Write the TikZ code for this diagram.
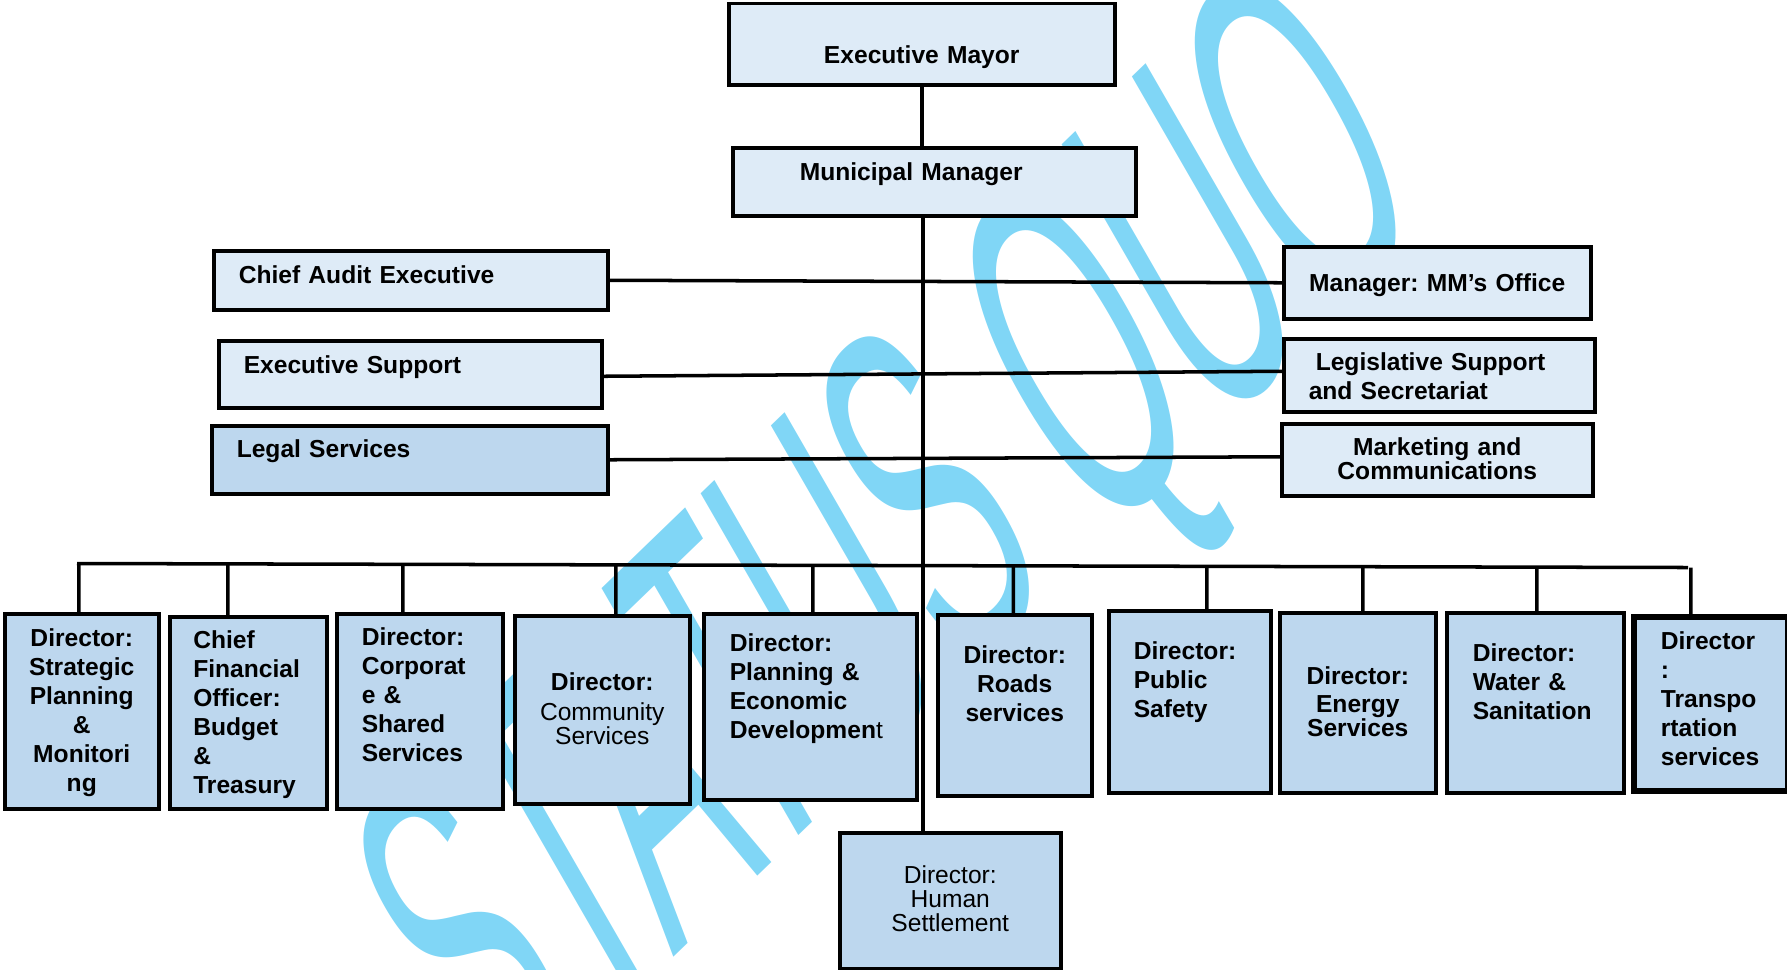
\documentclass[tikz,border=0pt]{standalone}
\usepackage{fontspec}
\setmainfont{Liberation Sans}
\usetikzlibrary{calc}
\frenchspacing

\definecolor{paleblue}{HTML}{DEEBF7}
\definecolor{dirblue}{HTML}{BDD7EE}
\definecolor{markblue}{HTML}{80D6F6}

\newcommand{\post}[1]{\fontsize{7}{#1}\selectfont}

\tikzset{
  unit/.style={draw, line width=1pt, anchor=north west, inner ysep=0pt},
  upper/.style={unit, fill=paleblue, font=\post{8.25pt}\bfseries},
  lower/.style={unit, fill=dirblue, font=\post{8.25pt}\bfseries},
  lefty/.style={align=left, inner xsep=#1},
  mid/.style={align=center, inner xsep=#1},
  mid/.default=1mm,
  ht/.style 2 args={text height=#1, text depth=#2},
  link/.style={line width=1pt},
  trunk/.style={line width=1.25pt},
  stamp/.style={text=markblue, inner sep=0pt, font=\fontsize{130}{130}\selectfont,
    rotate=44, xslant=0.25, xscale=0.45},
}

\begin{document}
\begin{tikzpicture}[x=1mm, y=1mm]
    \useasboundingbox (0,0) rectangle (178.7,-96.9);

    \node[stamp] (status) at (90.5,-57.2) {STATUS QUO};

	\node[upper, mid, text width=36.6mm, ht={6.05mm}{2.1mm}] (mayor) at (72.7,-0.15) {Executive Mayor};
	\node[upper, lefty=6.7mm, text width=26.9mm, ht={3.3mm}{3.5mm}] (mm) at (73.1,-14.6) {Municipal Manager};
    \draw[trunk] (mayor.south) -- (mayor.south |- mm.north);

	\node[upper, lefty=2.5mm, text width=34.4mm, ht={3.25mm}{2.65mm}] (cae) at (21.2,-24.9) {Chief Audit Executive};
	\node[upper, mid, text width=28.7mm, ht={4.45mm}{2.75mm}] (mmo) at (128.2,-24.5) {Manager: MM’s Office};
    \draw[link] (cae.east) -- (mmo.west);

	\node[upper, lefty=2.5mm, text width=33.3mm, ht={3.3mm}{3.4mm}] (es) at (21.7,-33.9) {Executive Support};
	\node[upper, lefty=2.5mm, text width=26.1mm, ht={3.2mm}{4.1mm}] (legis) at (128.2,-33.7) {\hspace*{0.7mm}Legislative Support\\and Secretariat};
    \draw[link] ([yshift=-0.2mm]es.east) -- ([yshift=0.4mm]legis.west);

	\node[lower, lefty=2.5mm, text width=34.6mm, ht={3.2mm}{3.6mm}] (legal) at (21.0,-42.4) {Legal Services};
	\node[upper, mid, text width=29.1mm, ht={3.2mm}{4.0mm}, font=\post{6.7pt}\bfseries] (mkt) at (128.0,-42.2) {Marketing and\\Communications};
    \draw[link] (legal.east) -- ([yshift=0.3mm]mkt.west);

	\node[lower, mid=0.5mm, text width=14.4mm, ht={3.3mm}{16.2mm}] (strat) at (0.3,-61.2) {Director:\\Strategic\\Planning\\\&\\Monitori\\ng};
	\node[lower, lefty=2.35mm, text width=11.0mm, ht={3.2mm}{16.0mm}] (cfo) at (16.8,-61.5) {Chief\\Financial\\Officer:\\Budget\\\&\\Treasury};
	\node[lower, lefty=2.5mm, text width=11.6mm, ht={3.2mm}{16.3mm}] (corp) at (33.5,-61.2) {Director:\\Corporat\\e \&\\Shared\\Services};
	\node[lower, mid, text width=15.5mm, ht={7.5mm}{11.3mm}, font=\post{6.8pt}] (comm) at (51.3,-61.4) {{\bfseries Director:}\hspace*{2.2mm}\\[0.55mm]Community\\Services};
	\node[lower, lefty=2.6mm, text width=16.1mm, ht={3.75mm}{14.85mm}] (plan) at (70.2,-61.2) {Director:\\Planning \&\\Economic\\Developmen{\mdseries t}};
	\node[lower, mid, text width=13.4mm, ht={4.9mm}{13.2mm}] (roads) at (93.6,-61.3) {Director:\\Roads\\services};
	\node[lower, lefty=2.5mm, text width=11.2mm, ht={4.9mm}{13.3mm}] (pub) at (110.7,-60.9) {Director:\\Public\\Safety};
	\node[lower, mid, text width=13.6mm, ht={7.2mm}{10.8mm}, font=\post{6.8pt}\bfseries] (energy) at (127.8,-61.1) {Director:\\[0.4mm]Energy\\Services};
	\node[lower, lefty=2.6mm, text width=12.5mm, ht={4.9mm}{13.1mm}] (water) at (144.5,-61.1) {Director:\\Water \&\\Sanitation};
	\node[lower, lefty=2.7mm, text width=10.0mm, ht={3.3mm}{14.1mm}, line width=1.6pt] (trans) at (163.1,-61.4) {Director\\:\\Transpo\\rtation\\services};

	\node[lower, mid, text width=20.1mm, ht={5.1mm}{8.5mm}, font=\post{6.8pt}] (hs) at (83.8,-83.1) {Director:\\Human\\Settlement};
    \coordinate (spine) at (92.3,0);
    \draw[trunk] (mm.south -| spine) -- (hs.north -| spine);

    \coordinate (busL) at (7.7,-56.35);
    \coordinate (busR) at (168.8,-56.75);
    \draw[link] (busL) -- (busR);
    \foreach \who/\off in {strat/-0.3, cfo/-2.05, corp/-1.7, comm/1.35, plan/0.25,
                           roads/-0.15, pub/1.7, energy/0.5, water/0.15, trans/-2.0}{
      \path ([xshift=\off mm]\who.north) coordinate (head);
      \draw[link] (head) -- ($(busL)!(head)!(busR)$);
    }
\end{tikzpicture}
\end{document}
